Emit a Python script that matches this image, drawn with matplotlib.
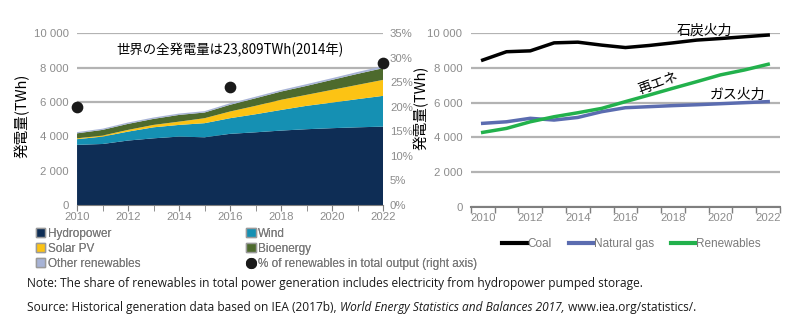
import matplotlib
matplotlib.use("Agg")
import matplotlib.pyplot as plt
from matplotlib.patches import Patch
from matplotlib.lines import Line2D
import numpy as np

years = list(range(2010, 2023))

# renewables generation by source (TWh)
hydro = [3500, 3550, 3750, 3880, 3980, 3940, 4140, 4230, 4330, 4410, 4470, 4520, 4560]
wind = [330, 430, 520, 640, 680, 820, 910, 1050, 1200, 1360, 1490, 1640, 1790]
solar = [50, 60, 100, 140, 190, 290, 390, 490, 590, 640, 740, 830, 930]
bio = [290, 330, 350, 350, 390, 330, 390, 440, 480, 520, 580, 640, 680]
other = [70, 70, 80, 80, 80, 80, 90, 90, 90, 100, 100, 110, 120]

share_years = [2010, 2016, 2022]
share_pct = [19.9, 24.1, 29.0]

# generation by fuel (TWh)
coal = [8450, 8930, 8980, 9440, 9480, 9310, 9170, 9290, 9440, 9600, 9690, 9790, 9890]
gas = [4810, 4900, 5100, 5000, 5150, 5480, 5710, 5770, 5830, 5880, 5940, 6000, 6060]
renew = [4290, 4520, 4900, 5190, 5420, 5670, 6060, 6440, 6830, 7210, 7600, 7880, 8210]

jp = ["Noto Sans CJK JP", "DejaVu Sans"]
plt.rcParams["font.family"] = ["Liberation Sans", "DejaVu Sans"]
tick_gray = "#8c8c8c"
grid_gray = "#b3b3b3"
tick_fs = 8.2

fig = plt.figure(figsize=(8, 3.28), dpi=100)

# ---- left: stacked renewables ----
ax = fig.add_axes([0.0963, 0.375, 0.3825, 0.524])
ax.stackplot(years, hydro, wind, solar, bio, other,
             colors=["#0e2d55", "#1590b3", "#fcc314", "#4d6a2d", "#a7b3d6"],
             zorder=2)
ax.set_xlim(2010, 2022)
ax.set_ylim(0, 10000)
ax.set_yticks(range(0, 10001, 2000))
ax.set_yticklabels(["0", "2 000", "4 000", "6 000", "8 000", "10 000"])
ax.set_xticks(range(2010, 2023, 2))
ax.set_xticks(years, minor=True)
ax.grid(axis="y", color=grid_gray, linewidth=1.6, zorder=0)
ax.set_axisbelow(True)
for s in ["top", "right", "left"]:
    ax.spines[s].set_visible(False)
ax.spines["bottom"].set_color("#7f7f7f")
ax.tick_params(axis="y", length=0, labelsize=tick_fs, labelcolor=tick_gray, pad=6)
ax.tick_params(axis="x", which="both", length=4, color="#7f7f7f",
               labelsize=tick_fs, labelcolor=tick_gray, pad=1)
ax.set_ylabel("発電量(TWh)", family=jp, fontsize=10.5)
ax.yaxis.set_label_coords(-0.154, 0.52)
ax.text(2016, 9000, "世界の全発電量は23,809TWh(2014年)", family=jp,
        fontsize=9.6, ha="center", va="center")

ax2 = ax.twinx()
ax2.scatter(share_years, share_pct, s=55, color="#1a1a1a", zorder=5, clip_on=False)
ax2.set_ylim(0, 35)
ax2.set_yticks(range(0, 36, 5))
ax2.set_yticklabels([f"{v}%" for v in range(0, 36, 5)])
for s in ["top", "right", "left", "bottom"]:
    ax2.spines[s].set_visible(False)
ax2.tick_params(axis="y", length=0, labelsize=tick_fs, labelcolor=tick_gray, pad=5)

# ---- right: generation by fuel ----
bx = fig.add_axes([0.5885, 0.369, 0.3866, 0.530])
bx.plot(years, coal, color="#000000", linewidth=2.5)
bx.plot(years, gas, color="#5b6cb0", linewidth=2.5)
bx.plot(years, renew, color="#22b14c", linewidth=2.5)
bx.set_xlim(2009.5, 2022.5)
bx.set_ylim(0, 10000)
bx.set_yticks(range(0, 10001, 2000))
bx.set_yticklabels(["0", "2 000", "4 000", "6 000", "8 000", "10 000"])
bx.set_xticks(range(2010, 2023, 2))
bx.set_xticks(np.arange(2009.5, 2023, 1), minor=True)
bx.grid(axis="y", color=grid_gray, linewidth=1.6, zorder=0)
bx.set_axisbelow(True)
for s in ["top", "right", "left"]:
    bx.spines[s].set_visible(False)
bx.spines["bottom"].set_color("#7f7f7f")
bx.spines["bottom"].set_linewidth(1.5)
bx.tick_params(axis="y", length=0, labelsize=tick_fs, labelcolor=tick_gray, pad=6)
bx.tick_params(axis="x", which="major", length=0, labelsize=tick_fs,
               labelcolor=tick_gray, pad=4)
bx.tick_params(axis="x", which="minor", length=4, color="#7f7f7f", width=1)
bx.set_ylabel("発電量(TWh)", family=jp, fontsize=10.5)
bx.yaxis.set_label_coords(-0.136, 0.57)
bx.text(2018.15, 10170, "石炭火力", family=jp, fontsize=10, ha="left", va="center")
bx.text(2017.4, 7130, "再エネ", family=jp, fontsize=10, ha="center", va="center",
        rotation=20)
bx.text(2019.55, 6440, "ガス火力", family=jp, fontsize=10, ha="left", va="center")

# ---- legends ----
leg_kw = dict(frameon=False, fontsize=8.5, handlelength=0.8, handleheight=0.8,
              handletextpad=0.2, labelspacing=0.25, borderaxespad=0, borderpad=0)
h1 = [Patch(facecolor="#0e2d55", edgecolor="#9a9a9a", label="Hydropower"),
      Patch(facecolor="#fcc314", edgecolor="#9a9a9a", label="Solar PV"),
      Patch(facecolor="#a7b3d6", edgecolor="#9a9a9a", label="Other renewables")]
h2 = [Patch(facecolor="#1590b3", edgecolor="#9a9a9a", label="Wind"),
      Patch(facecolor="#4d6a2d", edgecolor="#9a9a9a", label="Bioenergy"),
      Line2D([], [], marker="o", linestyle="none", color="#1a1a1a", markersize=7,
             label="% of renewables in total output (right axis)")]
for handles, x0 in [(h1, 0.045), (h2, 0.308)]:
    lg = fig.legend(handles=handles, loc="upper left", bbox_to_anchor=(x0, 0.305),
                    **leg_kw)
    for t in lg.get_texts():
        t.set_color("#7a7a7a")
    fig.add_artist(lg)

h3 = [Line2D([], [], color="#000000", linewidth=3, label="Coal"),
      Line2D([], [], color="#5b6cb0", linewidth=3, label="Natural gas"),
      Line2D([], [], color="#22b14c", linewidth=3, label="Renewables")]
lg3 = fig.legend(handles=h3, loc="center left", bbox_to_anchor=(0.628, 0.255),
                 ncol=3, frameon=False, fontsize=8.5, handlelength=2.1,
                 handletextpad=0.05, columnspacing=1.4, borderaxespad=0, borderpad=0)
for t in lg3.get_texts():
    t.set_color("#7a7a7a")

# ---- notes ----
note_kw = dict(fontsize=8.6, color="#1a1a1a", family=["Open Sans", "DejaVu Sans"],
               va="center", ha="left")
fig.text(0.034, 1 - 284 / 328,
         "Note: The share of renewables in total power generation includes "
         "electricity from hydropower pumped storage.", **note_kw)
parts = [("Source: Historical generation data based on IEA (2017b), ", "normal"),
         ("World Energy Statistics and Balances 2017,", "italic"),
         (" www.iea.org/statistics/.", "normal")]
fig.canvas.draw()
renderer = fig.canvas.get_renderer()
x = 0.034 * 800
for txt, style in parts:
    t = fig.text(x / 800, 1 - 307 / 328, txt, style=style, **note_kw)
    x = t.get_window_extent(renderer).x1

fig.savefig("out.png", dpi=100)
